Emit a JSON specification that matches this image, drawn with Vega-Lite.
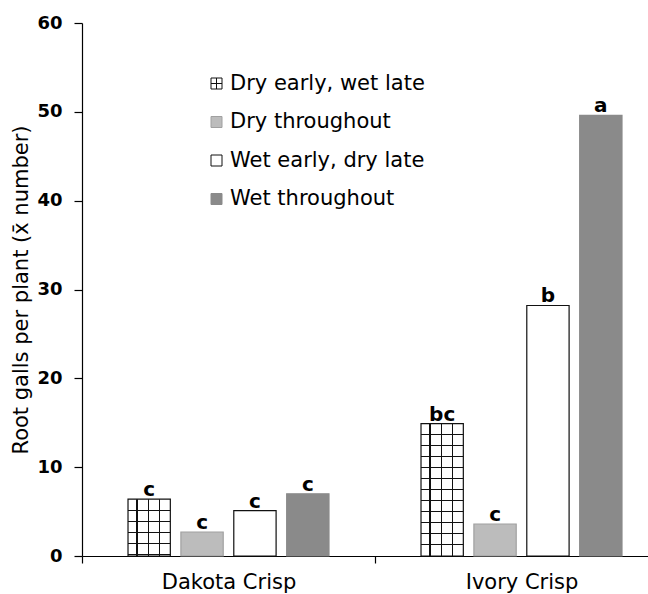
{
  "$schema": "https://vega.github.io/schema/vega-lite/v6.json",
  "width": 566,
  "height": 533,
  "autosize": {"type": "none"},
  "padding": {"left": 82, "top": 23, "right": 0, "bottom": 38},
  "background": "white",
  "config": {"view": {"stroke": null}},
  "data": {
    "values": [
      {"Cultivar": "Dakota Crisp", "Treatment": "Dry early, wet late", "Galls": 6.4, "Letter": "c"},
      {"Cultivar": "Dakota Crisp", "Treatment": "Dry throughout", "Galls": 2.7, "Letter": "c"},
      {"Cultivar": "Dakota Crisp", "Treatment": "Wet early, dry late", "Galls": 5.1, "Letter": "c"},
      {"Cultivar": "Dakota Crisp", "Treatment": "Wet throughout", "Galls": 7.0, "Letter": "c"},
      {"Cultivar": "Ivory Crisp", "Treatment": "Dry early, wet late", "Galls": 14.9, "Letter": "bc"},
      {"Cultivar": "Ivory Crisp", "Treatment": "Dry throughout", "Galls": 3.6, "Letter": "c"},
      {"Cultivar": "Ivory Crisp", "Treatment": "Wet early, dry late", "Galls": 28.2, "Letter": "b"},
      {"Cultivar": "Ivory Crisp", "Treatment": "Wet throughout", "Galls": 49.6, "Letter": "a"}
    ]
  },
  "encoding": {
    "x": {
      "field": "Cultivar",
      "type": "nominal",
      "scale": {"range": [0, 586], "paddingInner": 0, "paddingOuter": 0},
      "axis": {
        "title": null,
        "labelAngle": 0,
        "tickBand": "extent",
        "tickSize": 7,
        "tickWidth": 1.2,
        "tickColor": "black",
        "domainColor": "black",
        "domainWidth": 1.2,
        "labelFont": "DejaVu Sans",
        "labelFontSize": 21,
        "labelFontWeight": "normal",
        "labelColor": "black",
        "labelPadding": 8
      }
    },
    "xOffset": {
      "field": "Treatment",
      "type": "nominal",
      "scale": {
        "domain": ["Dry early, wet late", "Dry throughout", "Wet early, dry late", "Wet throughout"],
        "paddingInner": 0.2,
        "paddingOuter": 0.87
      }
    },
    "y": {
      "field": "Galls",
      "type": "quantitative",
      "scale": {"domain": [0, 60], "nice": false},
      "axis": {
        "title": "Root galls per plant (x\u0304 number)",
        "values": [0, 10, 20, 30, 40, 50, 60],
        "grid": false,
        "tickSize": 8,
        "tickWidth": 1.2,
        "tickColor": "black",
        "domainColor": "black",
        "domainWidth": 1.2,
        "labelFont": "DejaVu Sans",
        "labelFontWeight": "bold",
        "labelFontSize": 18,
        "labelColor": "black",
        "labelPadding": 12,
        "titleFont": "DejaVu Sans",
        "titleFontSize": 21,
        "titleFontWeight": "normal",
        "titleColor": "black",
        "titlePadding": 5
      }
    }
  },
  "layer": [
    {
      "mark": {"type": "bar", "strokeWidth": 1.2},
      "encoding": {
        "fill": {
          "field": "Treatment",
          "type": "nominal",
          "scale": {
            "domain": ["Dry early, wet late", "Dry throughout", "Wet early, dry late", "Wet throughout"],
            "range": ["#ffffff", "#bcbcbc", "#ffffff", "#8a8a8a"]
          },
          "legend": {
            "title": null,
            "orient": "none",
            "legendX": 124,
            "legendY": 50,
            "symbolType": "square",
            "symbolSize": 121,
            "symbolStrokeWidth": 1,
            "labelFont": "DejaVu Sans",
            "labelFontSize": 21,
            "labelColor": "black",
            "labelOffset": 3,
            "labelLimit": 400,
            "rowPadding": 16.5,
            "padding": 0,
            "encode": {
              "symbols": {
                "update": {
                  "shape": {"signal": "datum.value === 'Dry early, wet late' ? 'M-1,-1H1V1H-1Z M-1,0H1 M0,-1V1' : 'square'"}
                }
              }
            }
          }
        },
        "stroke": {
          "field": "Treatment",
          "type": "nominal",
          "scale": {
            "domain": ["Dry early, wet late", "Dry throughout", "Wet early, dry late", "Wet throughout"],
            "range": ["#111111", "#a0a0a0", "#111111", "#8a8a8a"]
          },
          "legend": {
            "title": null,
            "orient": "none",
            "legendX": 124,
            "legendY": 50,
            "symbolType": "square",
            "symbolSize": 121,
            "symbolStrokeWidth": 1,
            "labelFont": "DejaVu Sans",
            "labelFontSize": 21,
            "labelColor": "black",
            "labelOffset": 3,
            "labelLimit": 400,
            "rowPadding": 16.5,
            "padding": 0,
            "encode": {
              "symbols": {
                "update": {
                  "shape": {"signal": "datum.value === 'Dry early, wet late' ? 'M-1,-1H1V1H-1Z M-1,0H1 M0,-1V1' : 'square'"}
                }
              }
            }
          }
        }
      }
    },
    {
      "transform": [{"filter": "datum.Treatment === 'Dry early, wet late'"}],
      "mark": {
        "type": "bar",
        "strokeWidth": 0,
        "fill": {"gradient": "linear", "x1": 0, "y1": 0, "x2": 1, "y2": 0, "stops": [
          {"offset": 0, "color": "rgba(0,0,0,0)"},
          {"offset": 0.199, "color": "rgba(0,0,0,0)"},
          {"offset": 0.199, "color": "#111111"},
          {"offset": 0.229, "color": "#111111"},
          {"offset": 0.229, "color": "rgba(0,0,0,0)"},
          {"offset": 0.461, "color": "rgba(0,0,0,0)"},
          {"offset": 0.461, "color": "#111111"},
          {"offset": 0.491, "color": "#111111"},
          {"offset": 0.491, "color": "rgba(0,0,0,0)"},
          {"offset": 0.723, "color": "rgba(0,0,0,0)"},
          {"offset": 0.723, "color": "#111111"},
          {"offset": 0.753, "color": "#111111"},
          {"offset": 0.753, "color": "rgba(0,0,0,0)"},
          {"offset": 1, "color": "rgba(0,0,0,0)"}
        ]}
      },
      "encoding": {}
    },
    {
      "transform": [{"filter": "datum.Treatment === 'Dry early, wet late' && datum.Cultivar === 'Dakota Crisp'"}],
      "mark": {
        "type": "bar",
        "strokeWidth": 0,
        "fill": {"gradient": "linear", "x1": 0, "y1": 0, "x2": 0, "y2": 1, "stops": [
          {"offset": 0, "color": "rgba(0,0,0,0)"},
          {"offset": 0.183, "color": "rgba(0,0,0,0)"},
          {"offset": 0.183, "color": "#111111"},
          {"offset": 0.204, "color": "#111111"},
          {"offset": 0.204, "color": "rgba(0,0,0,0)"},
          {"offset": 0.376, "color": "rgba(0,0,0,0)"},
          {"offset": 0.376, "color": "#111111"},
          {"offset": 0.397, "color": "#111111"},
          {"offset": 0.397, "color": "rgba(0,0,0,0)"},
          {"offset": 0.57, "color": "rgba(0,0,0,0)"},
          {"offset": 0.57, "color": "#111111"},
          {"offset": 0.591, "color": "#111111"},
          {"offset": 0.591, "color": "rgba(0,0,0,0)"},
          {"offset": 0.764, "color": "rgba(0,0,0,0)"},
          {"offset": 0.764, "color": "#111111"},
          {"offset": 0.785, "color": "#111111"},
          {"offset": 0.785, "color": "rgba(0,0,0,0)"},
          {"offset": 0.957, "color": "rgba(0,0,0,0)"},
          {"offset": 0.957, "color": "#111111"},
          {"offset": 0.978, "color": "#111111"},
          {"offset": 0.978, "color": "rgba(0,0,0,0)"},
          {"offset": 1, "color": "rgba(0,0,0,0)"}
        ]}
      },
      "encoding": {}
    },
    {
      "transform": [{"filter": "datum.Treatment === 'Dry early, wet late' && datum.Cultivar === 'Ivory Crisp'"}],
      "mark": {
        "type": "bar",
        "strokeWidth": 0,
        "fill": {"gradient": "linear", "x1": 0, "y1": 0, "x2": 0, "y2": 1, "stops": [
          {"offset": 0, "color": "rgba(0,0,0,0)"},
          {"offset": 0.0786, "color": "rgba(0,0,0,0)"},
          {"offset": 0.0786, "color": "#111111"},
          {"offset": 0.0876, "color": "#111111"},
          {"offset": 0.0876, "color": "rgba(0,0,0,0)"},
          {"offset": 0.1617, "color": "rgba(0,0,0,0)"},
          {"offset": 0.1617, "color": "#111111"},
          {"offset": 0.1707, "color": "#111111"},
          {"offset": 0.1707, "color": "rgba(0,0,0,0)"},
          {"offset": 0.2448, "color": "rgba(0,0,0,0)"},
          {"offset": 0.2448, "color": "#111111"},
          {"offset": 0.2538, "color": "#111111"},
          {"offset": 0.2538, "color": "rgba(0,0,0,0)"},
          {"offset": 0.3278, "color": "rgba(0,0,0,0)"},
          {"offset": 0.3278, "color": "#111111"},
          {"offset": 0.3368, "color": "#111111"},
          {"offset": 0.3368, "color": "rgba(0,0,0,0)"},
          {"offset": 0.4109, "color": "rgba(0,0,0,0)"},
          {"offset": 0.4109, "color": "#111111"},
          {"offset": 0.4199, "color": "#111111"},
          {"offset": 0.4199, "color": "rgba(0,0,0,0)"},
          {"offset": 0.494, "color": "rgba(0,0,0,0)"},
          {"offset": 0.494, "color": "#111111"},
          {"offset": 0.503, "color": "#111111"},
          {"offset": 0.503, "color": "rgba(0,0,0,0)"},
          {"offset": 0.5771, "color": "rgba(0,0,0,0)"},
          {"offset": 0.5771, "color": "#111111"},
          {"offset": 0.5861, "color": "#111111"},
          {"offset": 0.5861, "color": "rgba(0,0,0,0)"},
          {"offset": 0.6602, "color": "rgba(0,0,0,0)"},
          {"offset": 0.6602, "color": "#111111"},
          {"offset": 0.6692, "color": "#111111"},
          {"offset": 0.6692, "color": "rgba(0,0,0,0)"},
          {"offset": 0.7433, "color": "rgba(0,0,0,0)"},
          {"offset": 0.7433, "color": "#111111"},
          {"offset": 0.7523, "color": "#111111"},
          {"offset": 0.7523, "color": "rgba(0,0,0,0)"},
          {"offset": 0.8264, "color": "rgba(0,0,0,0)"},
          {"offset": 0.8264, "color": "#111111"},
          {"offset": 0.8354, "color": "#111111"},
          {"offset": 0.8354, "color": "rgba(0,0,0,0)"},
          {"offset": 0.9095, "color": "rgba(0,0,0,0)"},
          {"offset": 0.9095, "color": "#111111"},
          {"offset": 0.9185, "color": "#111111"},
          {"offset": 0.9185, "color": "rgba(0,0,0,0)"},
          {"offset": 1, "color": "rgba(0,0,0,0)"}
        ]}
      },
      "encoding": {}
    },
    {
      "mark": {
        "type": "text",
        "font": "DejaVu Sans",
        "fontWeight": "bold",
        "fontSize": 20,
        "baseline": "alphabetic",
        "dy": -3,
        "color": "black"
      },
      "encoding": {"text": {"field": "Letter"}}
    }
  ]
}
